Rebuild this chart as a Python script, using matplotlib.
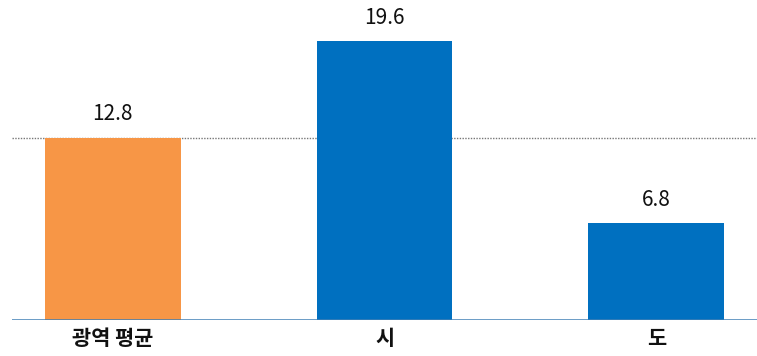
import matplotlib
matplotlib.use('Agg')
import matplotlib.pyplot as plt

plt.rcParams['font.family'] = ['Noto Sans CJK KR', 'DejaVu Sans']

# 데이터
categories = ['광역 평균', '시', '도']
values = [12.8, 19.6, 6.8]
colors = ['#F79646', '#0070C0', '#0070C0']
avg_value = 12.8

fig = plt.figure(figsize=(7.57, 3.56), dpi=100)
ax = fig.add_axes([12 / 757, 36 / 356, 745 / 757, 320 / 356])

x = range(len(categories))
bars = ax.bar(x, values, width=0.5, color=colors, zorder=2)

# 값 표시
for bar, v in zip(bars, values):
    ax.annotate(f'{v:.1f}', (bar.get_x() + bar.get_width() / 2, bar.get_height()),
                xytext=(0, 9), textcoords='offset points',
                ha='center', va='bottom', fontsize=15, color='#111111')

# 평균 점선
ax.axhline(avg_value, color='#777777', linestyle=(0, (1, 1)), linewidth=1.0, zorder=1)
ax.axhline(0, color='#3F7FB5', linewidth=1.8, zorder=3)

ax.set_xlim(-0.37, 2.37)
ax.set_ylim(0, 22.5)
ax.set_xticks(list(x))
ax.set_xticklabels(categories, fontsize=15, fontweight='bold', color='#111111')
ax.tick_params(axis='x', length=0, pad=6)
ax.set_yticks([])
for s in ax.spines.values():
    s.set_visible(False)

fig.savefig('out.png', dpi=100)
